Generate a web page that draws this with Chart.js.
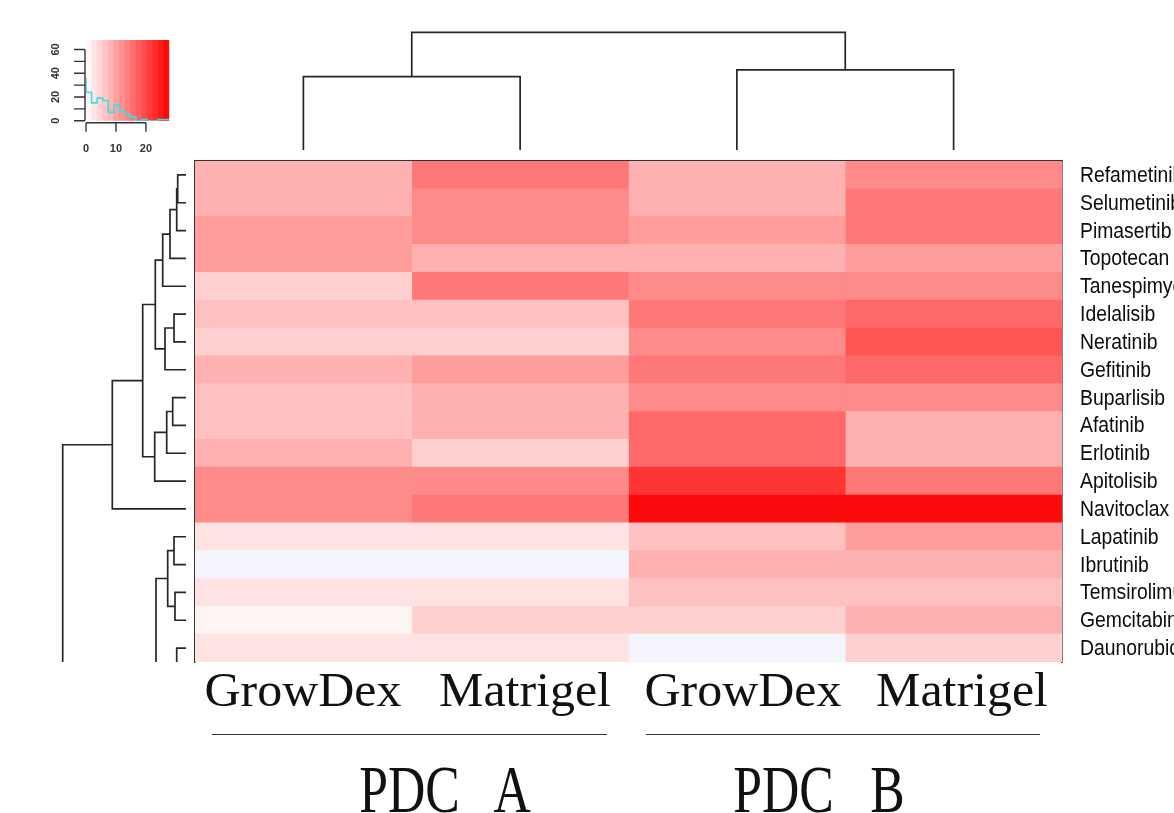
<!DOCTYPE html>
<html>
<head>
<meta charset="utf-8">
<script src="https://cdn.jsdelivr.net/npm/chart.js@4/dist/chart.umd.min.js"></script>
<style>
html,body{margin:0;padding:0;background:#fff;overflow:hidden;width:1174px;height:813px}
#wrap{position:relative;width:1174px;height:813px;overflow:hidden;background:#fff}
canvas{position:absolute}
.lbl{position:absolute;font-family:"Liberation Serif","Times New Roman",serif;color:#111;white-space:nowrap;line-height:1;transform-origin:50% 0}
.rule{position:absolute;height:0;border-top:1.6px solid #333}
</style>
</head>
<body>
<div id="wrap">
  <canvas id="key" width="170" height="132" style="left:20px;top:28px"></canvas>
  <canvas id="colDendro" width="877" height="129" style="left:190px;top:26px"></canvas>
  <canvas id="rowDendro" width="136" height="507" style="left:55px;top:156px"></canvas>
  <canvas id="heat" width="984" height="513" style="left:190px;top:150px"></canvas>
  <div id="texts"></div>
</div>
<script>
// ---------------- data ----------------
const drugs = ['Refametinib','Selumetinib','Pimasertib','Topotecan','Tanespimycin','Idelalisib','Neratinib','Gefitinib','Buparlisib','Afatinib','Erlotinib','Apitolisib','Navitoclax','Lapatinib','Ibrutinib','Temsirolimus','Gemcitabine','Daunorubicin'];
const conditions = ['GrowDex','Matrigel','GrowDex','Matrigel'];
const models = ['PDC A','PDC B'];

// cell values (colour-key units, 0 .. scaleMax); null = no value (pale lavender)
const growdexA  = [8.6, 8.6, 10.8, 10.8, 5.1, 6.9, 5.1, 8.6, 6.9, 6.9, 8.6, 12.8, 12.8, 3.2, null, 3.2, 1.2, 3.2];
const matrigelA = [14.7, 12.8, 12.8, 8.6, 14.7, 6.9, 5.1, 10.8, 8.6, 8.6, 5.1, 12.8, 14.7, 3.2, null, 3.2, 5.1, 3.2];
const growdexB  = [8.6, 8.6, 10.8, 8.6, 12.8, 14.7, 12.8, 14.7, 12.8, 16.5, 16.5, 22.0, 26.7, 6.9, 8.6, 6.9, 5.1, null];
const matrigelB = [12.8, 14.7, 14.7, 10.8, 12.8, 16.5, 18.5, 16.5, 12.8, 8.6, 8.6, 14.7, 26.7, 10.8, 8.6, 6.9, 8.6, 5.1];
const columns = [growdexA, matrigelA, growdexB, matrigelB];

const scaleMax = 27.8;
const naColor = '#f4f4fc';

// colour key histogram
const keyBreaks = [0,1.85,3.71,5.56,7.41,9.27,11.12,12.97,14.83,16.68,18.53,20.39,22.24,24.09,25.95,27.8];
const keyCounts = [36,24,15,19,17,7,13,8,5,3,0,1,0,0,1];
const keyXTicks = [0,10,20];
const keyYTicks = [0,10,20,30,40,50,60];
const keyYTickLabels = ['0','','20','','40','','60'];
const keyYMax = 68;

// column dendrogram (hclust style: negative = leaf, positive = earlier merge)
const colMerges = [[-1,-2,0.623],[-3,-4,0.68],[1,2,1.0]];
const colTreeMax = 1.0;

// row dendrogram; leaves 19 and 20 lie below the cropped bottom edge
const hiddenLeafRows = [19, 23];
const rowMerges = [
  [-1,-2,8.3],[1,-3,9.3],[2,-4,16.0],[3,-5,23.3],
  [-6,-7,12.0],[5,-8,21.0],[4,6,30.7],
  [-9,-10,13.3],[8,-11,19.3],[9,-12,31.3],
  [7,10,43.3],[11,-13,73.7],
  [-14,-15,12.0],[-16,-17,11.0],[13,14,18.3],
  [-18,-19,9.3],[15,-20,30.0],[17,16,60.0],
  [12,18,123.3]
];
const rowTreeMax = 123.3;

// ---------------- helpers ----------------
function colorFor(v){
  if(v === null || v === undefined) return naColor;
  const t = Math.max(0, Math.min(1, v/scaleMax));
  const g = Math.round(255*(1-t));
  return `rgb(255,${g},${g})`;
}
function dendroSegments(merges, leafPos){
  const pos = [], hgt = [];
  const get = id => id < 0 ? {p: leafPos(-id-1), h: 0} : {p: pos[id-1], h: hgt[id-1]};
  const segs = [];
  merges.forEach((m,i) => {
    const a = get(m[0]), b = get(m[1]);
    pos[i] = (a.p + b.p)/2; hgt[i] = m[2];
    segs.push([{p:a.p,h:a.h},{p:a.p,h:m[2]},{p:b.p,h:m[2]},{p:b.p,h:b.h}]);
  });
  return segs;
}
const lineColor = '#262626';
const borderCol = '#333';
Chart.defaults.animation = false;
Chart.defaults.responsive = false;
Chart.defaults.events = [];
Chart.defaults.plugins.legend.display = false;
Chart.defaults.plugins.tooltip.enabled = false;

// row labels in a narrow sans (Arial-Narrow look), placed by the category scale
const rowLabels = {
  id: 'rowLabels',
  afterDraw(chart){
    const {ctx, chartArea: a, scales: {y}} = chart;
    ctx.save();
    ctx.font = "21.5px 'Liberation Sans', Arial, sans-serif";
    ctx.fillStyle = '#0c0c0c';
    ctx.textAlign = 'left';
    ctx.textBaseline = 'middle';
    y.getLabels().forEach((lab, i) => {
      ctx.save();
      ctx.translate(a.right + 18, y.getPixelForValue(i) + 1);
      ctx.scale(0.9, 1);
      ctx.fillText(lab, 0, 0);
      ctx.restore();
    });
    ctx.restore();
  }
};

// ---------------- heatmap ----------------
new Chart(document.getElementById('heat'), {
  type: 'bar',
  data: {
    labels: drugs,
    datasets: columns.map((vals, c) => ({
      label: conditions[c] + ' ' + models[Math.floor(c/2)],
      data: vals.map(() => [c, c+1]),
      backgroundColor: vals.map(colorFor),
      borderWidth: 0,
      barPercentage: 1,
      categoryPercentage: 1,
      grouped: false
    }))
  },
  options: {
    indexAxis: 'y',
    layout: {padding: {left: 5, top: 11, bottom: 1, right: 0}},
    scales: {
      x: {type: 'linear', position: 'top', min: 0, max: 4,
          ticks: {display: false}, grid: {display: false, drawTicks: false},
          border: {display: true, color: borderCol, width: 1.6},
          afterFit(s){ s.height = 0; s.paddingLeft = 0; s.paddingRight = 0; }},
      y: {type: 'category', position: 'right', offset: true,
          grid: {display: false, drawTicks: false},
          border: {display: true, color: borderCol, width: 1.6},
          ticks: {display: false, padding: 0},
          afterFit(s){ s.width = 112; s.paddingTop = 0; s.paddingBottom = 0; }},
      yl: {type: 'linear', position: 'left', min: 0, max: 1,
           ticks: {display: false, padding: 0}, grid: {display: false, drawTicks: false},
           border: {display: true, color: borderCol, width: 1.6},
           afterFit(s){ s.width = 0; s.paddingTop = 0; s.paddingBottom = 0; }}
    }
  },
  plugins: [rowLabels]
});

// ---------------- column dendrogram ----------------
const colSegs = dendroSegments(colMerges, i => i + 0.5);
new Chart(document.getElementById('colDendro'), {
  type: 'scatter',
  data: {datasets: colSegs.map(s => ({
    data: s.map(q => ({x: q.p, y: q.h})),
    showLine: true, pointRadius: 0, borderColor: lineColor, borderWidth: 1.7,
    tension: 0, fill: false, clip: false
  }))},
  options: {
    layout: {padding: {left: 5, right: 5, top: 6.3, bottom: 5}},
    scales: {x: {display: false, min: 0, max: columns.length},
             y: {display: false, min: 0, max: colTreeMax}}
  }
});

// ---------------- row dendrogram ----------------
const rowSegs = dendroSegments(rowMerges, i => i < drugs.length ? i : hiddenLeafRows[i - drugs.length]);
new Chart(document.getElementById('rowDendro'), {
  type: 'scatter',
  data: {datasets: rowSegs.map(s => ({
    data: s.map(q => ({x: q.h, y: q.p})),
    showLine: true, pointRadius: 0, borderColor: lineColor, borderWidth: 1.7,
    tension: 0, fill: false, clip: {left: 6, top: 5, right: 5, bottom: 0}
  }))},
  options: {
    layout: {padding: {left: 7.7, right: 5, top: 5, bottom: 1}},
    scales: {x: {display: false, reverse: true, min: 0, max: rowTreeMax},
             y: {display: false, reverse: true, min: -0.5, max: drugs.length - 0.5}}
  }
});

// ---------------- colour key ----------------
const keyAxes = {
  id: 'keyAxes',
  afterDraw(chart){
    const {ctx, chartArea: a, scales: {x, y}} = chart;
    ctx.save();
    ctx.strokeStyle = '#333'; ctx.fillStyle = '#333'; ctx.lineWidth = 1.4;
    const yb = a.bottom + 2;
    ctx.beginPath();
    ctx.moveTo(x.getPixelForValue(keyXTicks[0]), yb);
    ctx.lineTo(x.getPixelForValue(keyXTicks[keyXTicks.length-1]), yb);
    keyXTicks.forEach(t => { const px = x.getPixelForValue(t); ctx.moveTo(px, yb); ctx.lineTo(px, yb + 9); });
    const xl = a.left - 1;
    ctx.moveTo(xl, y.getPixelForValue(keyYTicks[0]));
    ctx.lineTo(xl, y.getPixelForValue(keyYTicks[keyYTicks.length-1]));
    keyYTicks.forEach(t => { const py = y.getPixelForValue(t); ctx.moveTo(xl, py); ctx.lineTo(xl - 11, py); });
    ctx.stroke();
    ctx.font = "bold 11px 'Liberation Sans', Arial, sans-serif";
    ctx.textAlign = 'center'; ctx.textBaseline = 'middle';
    keyXTicks.forEach(t => ctx.fillText(String(t), x.getPixelForValue(t), yb + 26));
    keyYTicks.forEach((t, i) => {
      if(!keyYTickLabels[i]) return;
      ctx.save();
      ctx.translate(xl - 29, y.getPixelForValue(t));
      ctx.rotate(-Math.PI/2);
      ctx.fillText(keyYTickLabels[i], 0, 0);
      ctx.restore();
    });
    ctx.restore();
  }
};
const keyCenters = keyCounts.map((_, i) => (keyBreaks[i] + keyBreaks[i+1]) / 2);
const histPts = keyCounts.map((c, i) => ({x: keyBreaks[i], y: c}));
histPts.push({x: keyBreaks[keyBreaks.length-1], y: keyCounts[keyCounts.length-1]});
new Chart(document.getElementById('key'), {
  type: 'bar',
  data: {datasets: [
    {type: 'line', data: histPts, stepped: 'after', borderColor: '#33e3e6', borderWidth: 1.6,
     pointRadius: 0, fill: false, order: 0},
    {type: 'bar', data: keyCenters.map(c => ({x: c, y: keyYMax})),
     backgroundColor: keyCenters.map(colorFor), borderWidth: 0,
     barPercentage: 1, categoryPercentage: 1, order: 1}
  ]},
  options: {
    layout: {padding: {left: 66, right: 20.7, top: 12, bottom: 39.3}},
    scales: {x: {type: 'linear', display: false, min: 0, max: scaleMax, offset: false},
             y: {display: false, min: 0, max: keyYMax}}
  },
  plugins: [keyAxes]
});

// ---------------- bottom labels ----------------
const texts = document.getElementById('texts');
function addText(str, cx, top, size, sx, extra){
  const d = document.createElement('div');
  d.className = 'lbl';
  d.textContent = str;
  d.style.left = cx + 'px';
  d.style.top = top + 'px';
  d.style.fontSize = size + 'px';
  d.style.transform = `translateX(-50%) scaleX(${sx})`;
  if(extra) Object.assign(d.style, extra);
  texts.appendChild(d);
}
const condCenters = [303, 525, 743, 962];
conditions.forEach((c, i) => addText(c, condCenters[i], 666, 48, 1.04));
const modelCenters = [445, 819];
models.forEach((m, i) => addText(m, modelCenters[i], 755, 68, 0.76, {wordSpacing: '31px'}));
[[212, 607], [646, 1040]].forEach(([l, r]) => {
  const d = document.createElement('div');
  d.className = 'rule';
  d.style.left = l + 'px'; d.style.width = (r - l) + 'px'; d.style.top = '734px';
  texts.appendChild(d);
});
</script>
</body>
</html>
